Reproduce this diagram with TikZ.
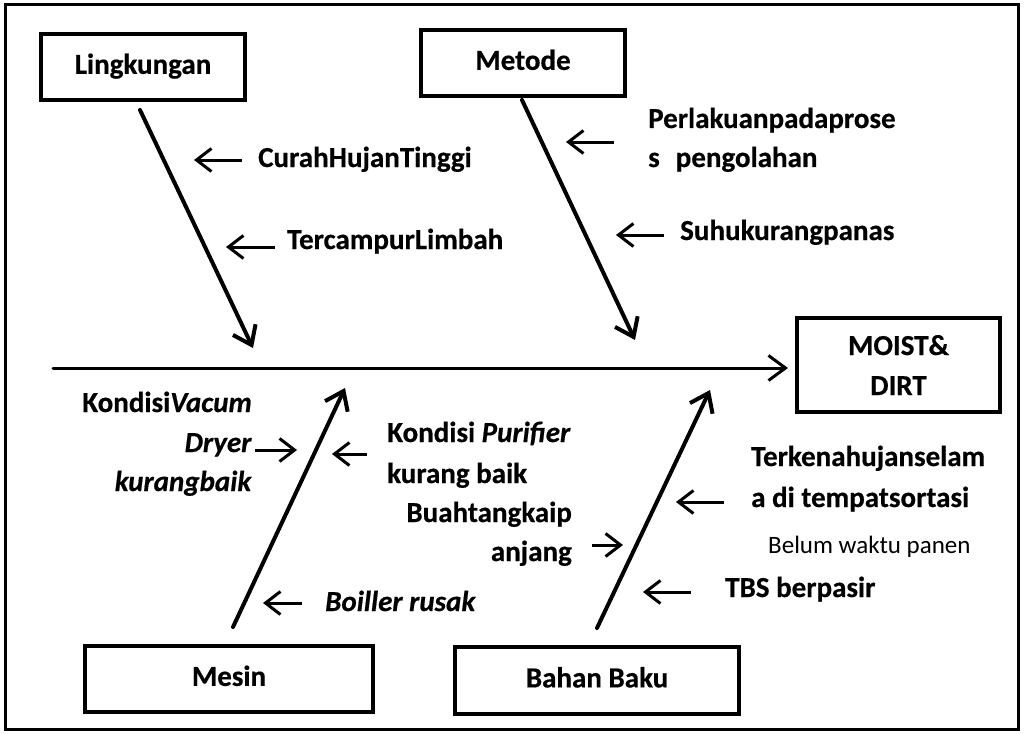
\documentclass[tikz,border=0pt]{standalone}
\usepackage{fontspec}
\setmainfont{Carlito}[BoldFeatures={FakeBold=0.5},BoldItalicFeatures={FakeBold=0.5}]
\usetikzlibrary{arrows.meta}
\newcommand\mylines[2][l]{\begin{tabular}[t]{@{}#1@{}}#2\end{tabular}}
\begin{document}
\begin{tikzpicture}[x=1pt,y=-1pt,
  box/.style={draw,line width=4pt,inner sep=0pt,font=\bfseries\fontsize{29}{40}\selectfont,align=center},
  onebox/.style={box,text height=18.7pt,text depth=5pt},
  lbl/.style={inner sep=0pt,font=\bfseries\fontsize{29}{40}\selectfont},
  note/.style={inner sep=0pt,font=\fontsize{25}{30}\selectfont},
  bone/.style={line width=4pt,line cap=round,-{Straight Barb[length=17pt,width=25pt]}},
  arr/.style={line width=3pt,-{Straight Barb[length=15pt,width=23pt]}}]
\useasboundingbox (0,0) rectangle (1024,733);
\draw[line width=3pt] (5,5) rectangle (1018,729);
% boxes
\node[onebox,minimum width=204pt,minimum height=66pt] (ling) at (143,67) {Lingkungan};
\node[onebox,minimum width=204pt,minimum height=66pt] (metode) at (523,63) {Metode};
\node[box,minimum width=203pt,minimum height=94pt] (moist) at (898.5,365) {MOIST\&\\DIRT};
\node[onebox,minimum width=288pt,minimum height=66pt] (mesin) at (229,679) {Mesin};
\node[onebox,minimum width=284pt,minimum height=67pt] (bahan) at (597,680.5) {Bahan Baku};
% spine and bones
\coordinate (spineS) at (53,368);
\draw[bone,line width=3pt] (spineS) -- ([xshift=-7pt]moist.west |- spineS);
\coordinate (lingS) at (140,110); \coordinate (lingE) at (253,348);
\coordinate (metS) at (522,100); \coordinate (metE) at (635,340);
\coordinate (mesS) at (233,627); \coordinate (mesE) at (345,388);
\coordinate (bahS) at (597,628); \coordinate (bahE) at (710,390);
\draw[bone] (lingS) -- (lingE);
\draw[bone] (metS) -- (metE);
\draw[bone] (mesS) -- (mesE);
\draw[bone] (bahS) -- (bahE);
% labels
\node[lbl,anchor=base west] (curah) at (258,167) {CurahHujanTinggi};
\node[lbl,anchor=base west] (tercampur) at (287,249) {TercampurLimbah};
\node[lbl,anchor=base west] (perlakuan) at (648,128) {\mylines{Perlakuanpadaprose\\[-1pt]s\hspace{16pt}pengolahan}};
\node[lbl,anchor=base west] (suhu) at (680,240) {Suhukurangpanas};
\node[lbl,anchor=base east] (vacum) at (252,412) {\mylines[r]{Kondisi\textit{Vacum}\\\textit{Dryer}\\[-1pt]\textit{kurangbaik}}};
\node[lbl,anchor=base west] (purifier) at (387,442) {\mylines{Kondisi \textit{Purifier}\\[1pt]kurang baik}};
\node[lbl,anchor=base east] (buah) at (572,522) {\mylines[r]{Buahtangkaip\\[-1pt]anjang}};
\node[lbl,anchor=base west] (boiller) at (325,611) {\textit{Boiller rusak}};
\node[lbl,anchor=base west] (terkena) at (751,466) {\mylines{Terkenahujanselam\\[1pt]a di tempatsortasi}};
\node[note,anchor=base west] (belum) at (768,553) {Belum waktu panen};
\node[lbl,anchor=base west] (tbs) at (725,597) {TBS berpasir};
% small arrows
\coordinate (a1s) at (242,160); \coordinate (a1e) at (194,160);
\coordinate (a2s) at (275,247); \coordinate (a2e) at (226,247);
\coordinate (a3s) at (614,142); \coordinate (a3e) at (566,142);
\coordinate (a4s) at (664,235); \coordinate (a4e) at (616,235);
\coordinate (a5s) at (255,450); \coordinate (a5e) at (297,450);
\coordinate (a6s) at (367,454); \coordinate (a6e) at (332,454);
\coordinate (a7s) at (592,545); \coordinate (a7e) at (623,545);
\coordinate (a8s) at (302,603); \coordinate (a8e) at (263,603);
\coordinate (a9s) at (724,502); \coordinate (a9e) at (676,502);
\coordinate (a10s) at (691,592); \coordinate (a10e) at (643,592);
\foreach \i in {1,...,10} {\draw[arr] (a\i s) -- (a\i e);}
\end{tikzpicture}
\end{document}
